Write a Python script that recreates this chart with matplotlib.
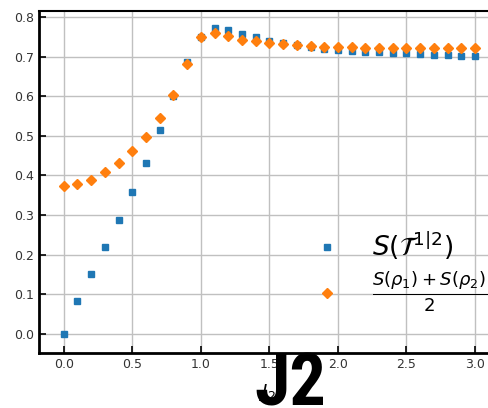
import numpy as np
import matplotlib
matplotlib.use("Agg")
import matplotlib.pyplot as plt
from matplotlib import font_manager

j2 = np.round(np.arange(0, 31) * 0.1, 1)

s_tau = [0.0, 0.083, 0.152, 0.220, 0.287, 0.358, 0.432, 0.514, 0.600, 0.687,
         0.750, 0.771, 0.766, 0.758, 0.749, 0.739, 0.733, 0.728, 0.724, 0.720,
         0.716, 0.714, 0.712, 0.711, 0.710, 0.708, 0.706, 0.705, 0.703, 0.702,
         0.702]
s_avg = [0.374, 0.378, 0.389, 0.408, 0.432, 0.462, 0.497, 0.545, 0.602, 0.682,
         0.750, 0.760, 0.753, 0.742, 0.739, 0.734, 0.731, 0.728, 0.726, 0.724,
         0.723, 0.723, 0.722, 0.722, 0.722, 0.722, 0.722, 0.722, 0.722, 0.722,
         0.722]

fig = plt.figure(figsize=(4.89, 4.08), dpi=100)
ax = fig.add_axes([39/489, 55/408, 458/489, 342/408])

ax.plot(j2, s_tau, 's', color='#1f77b4', markersize=5, label=r'$S(\mathcal{T}^{1|2})$')
ax.plot(j2, s_avg, 'D', color='#ff7f0e', markersize=5, label=r'$\frac{S(\rho_1)+S(\rho_2)}{2}$')

ax.set_xlim(-0.18, 3.16)
ax.set_ylim(-0.048, 0.815)
ax.set_xticks([0.0, 0.5, 1.0, 1.5, 2.0, 2.5, 3.0])
ax.set_yticks([0.0, 0.1, 0.2, 0.3, 0.4, 0.5, 0.6, 0.7, 0.8])
ax.grid(True, color='#c0c0c0', linewidth=1.0)
ax.set_axisbelow(True)
ax.tick_params(direction='in', length=5, width=1.2, labelsize=9, labelcolor='#333333')
for side in ['left', 'bottom']:
    ax.spines[side].set_linewidth(2)
ax.spines['top'].set_linewidth(1.5)
ax.spines['right'].set_visible(False)

ax.set_xlabel(r'$J_2$', fontsize=13, labelpad=8)

leg = ax.legend(loc='upper left', bbox_to_anchor=(0.52, 0.43), frameon=False,
                fontsize=19, handletextpad=0.7, labelspacing=0.3, numpoints=1)
leg.get_texts()[1].set_fontsize(18.5)

# big overlay label
names = {f.name for f in font_manager.fontManager.ttflist}
fams = [f for f in ['Roboto Condensed', 'Roboto', 'DejaVu Sans'] if f in names]
fig.text(254/489, 2/408, 'J2', fontsize=52, fontweight='bold', family=fams,
         ha='left', va='baseline', color='black')

fig.savefig('out.png', dpi=100)
